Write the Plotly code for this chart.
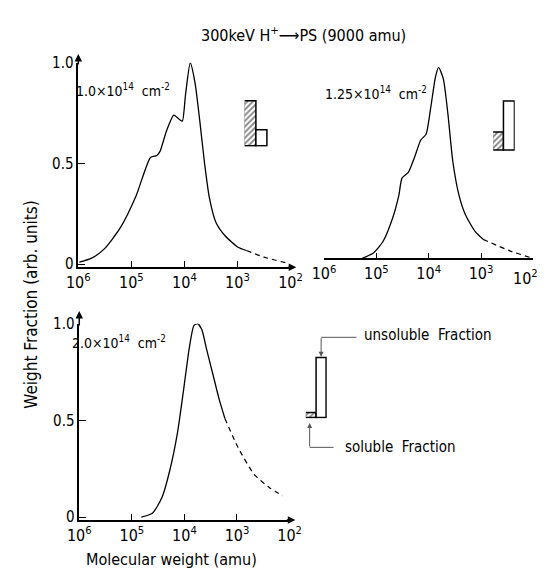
"""Weight fraction vs molecular weight of PS after 300 keV H+ irradiation."""

import plotly.graph_objects as go

W, H = 545, 569
FONT = "Liberation Sans Narrow, DejaVu Sans Condensed, DejaVu Sans, sans-serif"

# log10(molecular weight) and weight fraction
P1_LOGM = [5.98, 5.75, 5.51, 5.21, 4.91, 4.64, 4.52, 4.46, 4.34, 4.20, 4.10,
           4.04, 3.98, 3.89, 3.80, 3.71, 3.62, 3.53, 3.41, 3.23, 2.99, 2.83]
P1_FRAC = [0.01, 0.03, 0.076, 0.18, 0.34, 0.53, 0.54, 0.56, 0.66, 0.74, 0.72,
           0.71, 0.84, 1.0, 0.90, 0.71, 0.50, 0.33, 0.21, 0.14, 0.084, 0.068]
P1_DASH_LOGM = [2.83, 2.50, 2.02]
P1_DASH_FRAC = [0.068, 0.035, 0.003]

P2_LOGM = [5.27, 5.05, 4.87, 4.69, 4.57, 4.51, 4.39, 4.27, 4.15, 4.05, 3.96,
           3.87, 3.81, 3.72, 3.63, 3.54, 3.42, 3.30, 3.11, 2.96]
P2_FRAC = [0.0, 0.03, 0.09, 0.21, 0.33, 0.42, 0.45, 0.53, 0.62, 0.65, 0.79,
           0.95, 1.0, 0.94, 0.75, 0.51, 0.33, 0.23, 0.14, 0.10]
P2_DASH_LOGM = [2.96, 2.45, 2.0]
P2_DASH_FRAC = [0.10, 0.04, 0.0]

P3_LOGM = [4.82, 4.61, 4.43, 4.28, 4.13, 4.01, 3.91, 3.82, 3.75, 3.67, 3.58,
           3.46, 3.34, 3.23]
P3_FRAC = [0.0, 0.02, 0.10, 0.24, 0.44, 0.67, 0.87, 0.99, 1.0, 0.97, 0.87,
           0.74, 0.61, 0.51]
P3_DASH_LOGM = [3.23, 2.98, 2.67, 2.37, 2.13]
P3_DASH_FRAC = [0.51, 0.36, 0.22, 0.15, 0.11]

# soluble / unsoluble fraction bars for each fluence
FLUENCE_LABELS = ["1.0×10<sup>14</sup>  cm<sup>-2</sup>",
                  "1.25×10<sup>14</sup>  cm<sup>-2</sup>",
                  "2.0×10<sup>14</sup>  cm<sup>-2</sup>"]
SOLUBLE = [0.70, 0.28, 0.075]
UNSOLUBLE = [0.25, 0.75, 0.925]

TICK_MW = [1e6, 1e5, 1e4, 1e3, 1e2]
TICK_MW_TEXT = ["10<sup>6</sup>", "10<sup>5</sup>", "10<sup>4</sup>",
                "10<sup>3</sup>", "10<sup>2</sup>"]
TICK_FRAC = [0, 0.5, 1.0]
TICK_FRAC_TEXT = ["0", "0.5", "1.0"]


def fx(p):
    return p / W


def fy(p):
    return 1 - p / H


def mw(logs):
    return [10 ** v for v in logs]


fig = go.Figure()

curves = [
    (P1_LOGM, P1_FRAC, P1_DASH_LOGM, P1_DASH_FRAC, "x", "y"),
    (P2_LOGM, P2_FRAC, P2_DASH_LOGM, P2_DASH_FRAC, "x2", "y2"),
    (P3_LOGM, P3_FRAC, P3_DASH_LOGM, P3_DASH_FRAC, "x3", "y3"),
]
for lm, fr, dlm, dfr, xa, ya in curves:
    fig.add_trace(go.Scatter(x=mw(lm), y=fr, mode="lines", xaxis=xa, yaxis=ya,
                             line=dict(color="black", width=1.3,
                                       shape="spline", smoothing=0.6),
                             showlegend=False, hoverinfo="skip"))
    fig.add_trace(go.Scatter(x=mw(dlm), y=dfr, mode="lines", xaxis=xa, yaxis=ya,
                             line=dict(color="black", width=1.2, dash="5px,4px",
                                       shape="spline", smoothing=0.6),
                             showlegend=False, hoverinfo="skip"))

for i, (xa, ya) in enumerate([("x4", "y4"), ("x5", "y5"), ("x6", "y6")]):
    fig.add_trace(go.Bar(x=[0, 1], y=[SOLUBLE[i], UNSOLUBLE[i]], width=1,
                         xaxis=xa, yaxis=ya, showlegend=False,
                         marker=dict(color="white",
                                     line=dict(color="black", width=1.5),
                                     pattern=dict(shape=["/", ""], fgcolor="black",
                                                  bgcolor="white", size=4,
                                                  solidity=0.45))))

xcommon = dict(type="log", range=[6, 2], tickvals=TICK_MW, ticktext=TICK_MW_TEXT,
               ticks="inside", ticklen=6, tickwidth=1.3, tickcolor="black",
               showline=True, linecolor="black", linewidth=1.5,
               showgrid=False, zeroline=False, fixedrange=True,
               tickfont=dict(size=16, color="black"))
ycommon = dict(tickvals=TICK_FRAC, ticktext=TICK_FRAC_TEXT,
               ticks="inside", ticklen=7, tickwidth=1.3, tickcolor="black",
               showline=True, linecolor="black", linewidth=1.5,
               showgrid=False, zeroline=False, fixedrange=True,
               tickfont=dict(size=15, color="black"))
inset = dict(visible=False, fixedrange=True)

layout = dict(
    width=W, height=H, margin=dict(l=0, r=0, t=0, b=0),
    paper_bgcolor="white", plot_bgcolor="white",
    font=dict(family=FONT, color="black", size=15),
    bargap=0, barmode="overlay",
    xaxis=dict(xcommon, domain=[fx(61), fx(283)], anchor="y"),
    yaxis=dict(ycommon, domain=[fy(257), fy(47)], range=[-0.015, 1.0], anchor="x"),
    # the last label of this panel would run off the page, so it is drawn apart
    xaxis2=dict(xcommon, domain=[fx(318), fx(537)], anchor="y2",
                ticktext=TICK_MW_TEXT[:-1] + [""]),
    yaxis2=dict(domain=[fy(248), fy(51.7)], range=[0, 1.0], anchor="x2",
                visible=False, fixedrange=True),
    xaxis3=dict(xcommon, domain=[fx(62), fx(282)], anchor="y3"),
    yaxis3=dict(ycommon, domain=[fy(516.7), fy(315)], range=[-0.015, 1.0], anchor="x3"),
    xaxis4=dict(inset, domain=[fx(235), fx(259.5)], range=[-0.5, 1.5], anchor="y4"),
    yaxis4=dict(inset, domain=[fy(133.3), fy(66.3)], range=[0, 1], anchor="x4"),
    xaxis5=dict(inset, domain=[fx(495), fx(517.5)], range=[-0.5, 1.5], anchor="y5"),
    yaxis5=dict(inset, domain=[fy(137.7), fy(70.7)], range=[0, 1], anchor="x5"),
    xaxis6=dict(inset, domain=[fx(299), fx(321)], range=[-0.5, 1.5], anchor="y6"),
    yaxis6=dict(inset, domain=[fy(412.3), fy(345.3)], range=[0, 1], anchor="x6"),
)
fig.update_layout(**layout)


def text(x, y, s, size=15, xanchor="center", angle=0):
    fig.add_annotation(x=fx(x), y=fy(y), xref="paper", yref="paper", text=s,
                       showarrow=False, xanchor=xanchor, yanchor="middle",
                       textangle=angle, font=dict(size=size, color="black"))


def arrow(x, y, ax, ay, color="black", width=1.5):
    fig.add_annotation(x=fx(x), y=fy(y), xref="paper", yref="paper", text="",
                       showarrow=True, ax=ax, ay=ay, arrowhead=2, arrowsize=1,
                       arrowwidth=width, arrowcolor=color)


# axis arrows
arrow(61, 38, 0, 12)
arrow(289, 257, -10, 0)
arrow(62, 302, 0, 16)
arrow(288, 516.7, -10, 0)

text(297, 18, "300keV H<sup>+</sup>⟶PS (9000 amu)", size=16)
text(108, 75, FLUENCE_LABELS[0], size=14)
text(372, 78, FLUENCE_LABELS[1], size=14)
text(104, 334, FLUENCE_LABELS[2], size=14)
text(12, 295, "Weight Fraction (arb. units)", size=17, angle=-90)
text(158, 557, "Molecular weight (amu)", size=16)
text(544, 268, TICK_MW_TEXT[-1], size=16, xanchor="right")

# callouts for the fraction bars
gray = "#555555"
fig.add_shape(type="line", xref="paper", yref="paper", x0=fx(315), y0=fy(329),
              x1=fx(352), y1=fy(329), line=dict(color=gray, width=1))
arrow(315, 349, 0, -20, color=gray, width=1)
text(358, 327, "unsoluble  Fraction", size=15, xanchor="left")
fig.add_shape(type="line", xref="paper", yref="paper", x0=fx(303), y0=fy(442),
              x1=fx(328), y1=fy(442), line=dict(color=gray, width=1))
arrow(303, 417, 0, 25, color=gray, width=1)
text(338, 442, "soluble  Fraction", size=15, xanchor="left")

fig.write_html("out.html")
